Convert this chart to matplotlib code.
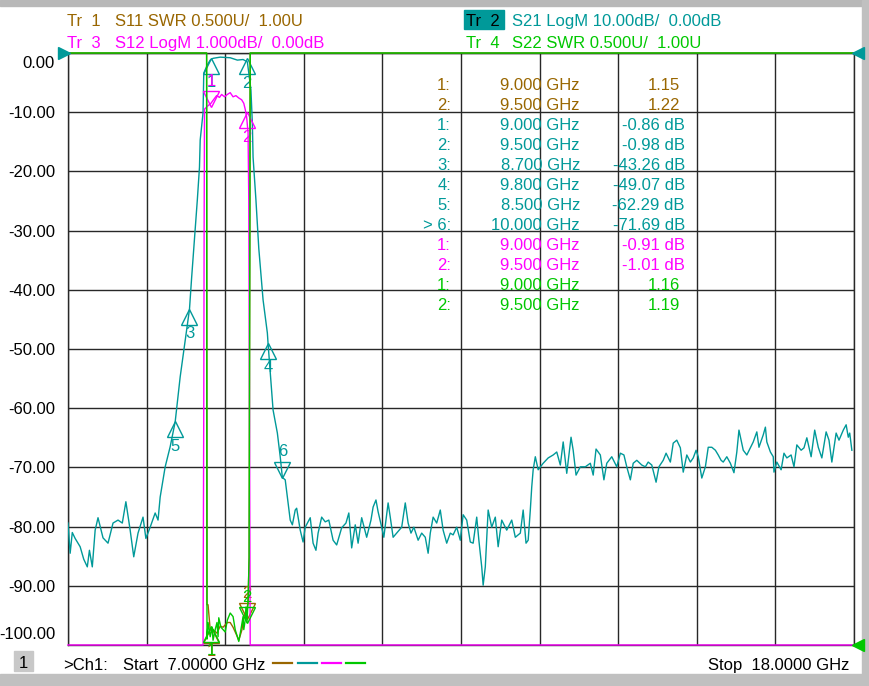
import numpy as np
import matplotlib.pyplot as plt
from matplotlib.patches import Rectangle
from matplotlib.transforms import offset_copy

plt.rcParams['font.family'] = ['Liberation Sans', 'DejaVu Sans']

# colours of the four traces
BROWN = '#996600'
TEAL = '#009999'
MAGENTA = '#ff00ff'
GREEN = '#00c800'
GRIDC = '#282828'

# Tr 2: S21 LogM (dB)
s21_freq = [7.00, 7.03, 7.06, 7.10, 7.17, 7.22, 7.27, 7.30, 7.34, 7.38,
            7.42, 7.49, 7.56, 7.63, 7.70, 7.76, 7.81, 7.87, 7.92, 7.98,
            8.05, 8.09, 8.15, 8.22, 8.26, 8.29, 8.36, 8.43, 8.50, 8.57,
            8.64, 8.70, 8.73, 8.76, 8.81, 8.84, 8.85, 8.89, 8.90, 8.95,
            8.99, 9.03, 9.13, 9.27, 9.37, 9.45, 9.51, 9.53, 9.56, 9.58,
            9.59, 9.63, 9.67, 9.73, 9.79, 9.80, 9.83, 9.87, 9.93, 9.97,
            10.00, 10.04, 10.07, 10.11, 10.14, 10.18, 10.20, 10.25, 10.29, 10.32,
            10.36, 10.39, 10.43, 10.47, 10.50, 10.55, 10.60, 10.65, 10.71, 10.76,
            10.83, 10.89, 10.93, 10.97, 11.02, 11.06, 11.11, 11.18, 11.24, 11.27,
            11.31, 11.34, 11.39, 11.42, 11.48, 11.51, 11.55, 11.60, 11.67, 11.72,
            11.76, 11.80, 11.84, 11.90, 11.95, 12.00, 12.04, 12.07, 12.11, 12.16,
            12.21, 12.25, 12.30, 12.35, 12.39, 12.44, 12.49, 12.53, 12.58, 12.63,
            12.67, 12.72, 12.75, 12.79, 12.81, 12.84, 12.88, 12.93, 12.98, 13.02,
            13.07, 13.14, 13.21, 13.26, 13.33, 13.37, 13.41, 13.44, 13.47, 13.49,
            13.51, 13.54, 13.58, 13.65, 13.72, 13.79, 13.84, 13.89, 13.93, 13.98,
            14.04, 14.07, 14.11, 14.17, 14.24, 14.31, 14.35, 14.39, 14.45, 14.50,
            14.54, 14.61, 14.68, 14.73, 14.78, 14.82, 14.87, 14.91, 14.96, 15.03,
            15.08, 15.12, 15.17, 15.23, 15.27, 15.33, 15.37, 15.43, 15.47, 15.52,
            15.57, 15.61, 15.66, 15.71, 15.75, 15.79, 15.82, 15.87, 15.92, 15.96,
            16.01, 16.06, 16.10, 16.14, 16.17, 16.22, 16.27, 16.32, 16.36, 16.39,
            16.45, 16.50, 16.55, 16.59, 16.64, 16.67, 16.73, 16.76, 16.78, 16.83,
            16.87, 16.88, 16.92, 16.98, 17.02, 17.06, 17.12, 17.16, 17.20, 17.26,
            17.30, 17.34, 17.40, 17.45, 17.50, 17.55, 17.61, 17.65, 17.69, 17.75,
            17.79, 17.85, 17.89, 17.92, 17.94, 17.97]
s21_db = [-79.4, -84.5, -81.0, -82.0, -83.4, -85.5, -86.8, -84.0, -86.8, -80.6,
          -78.5, -81.9, -82.8, -79.4, -78.9, -79.4, -75.8, -80.6, -85.1, -81.1,
          -78.4, -82.0, -80.1, -77.7, -78.9, -75.0, -69.9, -66.5, -62.3, -54.7,
          -48.5, -43.3, -38.0, -33.0, -24.8, -19.3, -14.7, -10.1, -3.4, -2.0,
          -1.2, -0.9, -0.7, -0.8, -1.2, -1.1, -1.5, -3.4, -6.2, -11.9,
          -17.6, -24.8, -33.0, -41.7, -47.3, -49.1, -54.0, -60.3, -64.2, -68.2,
          -71.7, -72.1, -75.0, -78.9, -79.7, -77.2, -76.9, -80.6, -82.6, -80.1,
          -79.2, -78.5, -82.8, -84.0, -81.1, -78.4, -79.2, -78.9, -82.3, -83.1,
          -80.2, -79.4, -77.7, -83.6, -79.7, -82.8, -78.5, -81.8, -78.9, -76.7,
          -75.5, -77.5, -80.1, -81.8, -76.0, -78.4, -81.8, -81.1, -80.1, -76.0,
          -79.4, -81.1, -80.1, -82.3, -81.1, -81.8, -84.5, -81.1, -78.4, -79.4,
          -77.2, -80.6, -82.8, -81.1, -81.4, -80.1, -82.3, -78.0, -78.9, -82.6,
          -82.8, -78.4, -82.3, -86.8, -89.9, -86.8, -77.2, -80.1, -78.4, -83.4,
          -78.9, -80.6, -78.9, -81.8, -81.1, -77.2, -82.8, -82.3, -77.2, -73.3,
          -70.4, -68.2, -70.4, -69.3, -68.4, -67.9, -67.4, -69.6, -65.7, -71.0,
          -64.9, -67.1, -71.3, -69.9, -69.9, -69.3, -71.3, -66.9, -67.9, -72.1,
          -69.3, -68.2, -69.9, -67.6, -67.9, -69.9, -72.1, -69.3, -68.8, -69.6,
          -69.9, -69.1, -69.6, -72.5, -69.9, -68.8, -67.6, -69.1, -65.9, -65.4,
          -66.7, -70.8, -67.9, -69.1, -68.4, -67.1, -68.2, -71.8, -69.9, -66.6,
          -66.6, -67.1, -67.9, -68.8, -69.1, -68.2, -69.3, -70.9, -67.4, -63.7,
          -67.1, -67.9, -66.7, -65.7, -64.0, -66.6, -64.5, -63.2, -65.7, -67.4,
          -68.2, -70.8, -69.1, -70.4, -67.6, -68.4, -67.9, -69.9, -66.2, -67.1,
          -66.7, -65.0, -68.2, -63.7, -66.6, -68.4, -64.0, -65.4, -69.1, -64.2,
          -65.4, -63.7, -62.8, -64.9, -64.2, -67.1]

# Tr 3: S12 LogM 1 dB/div
s12_freq = [7.00, 8.89, 8.90, 8.905, 8.91, 8.95, 9.00, 9.03, 9.08, 9.12,
            9.15, 9.19, 9.23, 9.27, 9.31, 9.35, 9.39, 9.43, 9.46, 9.48,
            9.50, 9.52, 9.53, 9.54, 9.55, 18.00]
s12_db = [-15, -15, -6.0, -3.0, -0.95, -0.90, -0.85, -0.80, -0.72, -0.75,
          -0.70, -0.74, -0.70, -0.67, -0.74, -0.72, -0.76, -0.79, -0.85, -0.95,
          -1.08, -1.35, -2.5, -6.0, -15, -15]

# Tr 1: S11 SWR
s11_freq = [7.00, 8.94, 8.945, 8.96, 8.99, 9.03, 9.085, 9.13, 9.17, 9.23,
            9.27, 9.31, 9.37, 9.39, 9.435, 9.46, 9.49, 9.52, 9.535, 9.55, 18.00]
s11_swr = [9, 9, 1.34, 1.34, 1.13, 1.13, 1.10, 1.16, 1.15, 1.19,
           1.19, 1.15, 1.07, 1.04, 1.13, 1.24, 1.27, 1.355, 1.74, 9, 9]

# Tr 4: S22 SWR
s22_freq = [7.00, 8.94, 8.945, 8.96, 8.99, 9.015, 9.03, 9.06, 9.085, 9.10,
            9.11, 9.14, 9.17, 9.20, 9.23, 9.27, 9.31, 9.34, 9.37, 9.39,
            9.42, 9.45, 9.46, 9.48, 9.49, 9.505, 9.52, 9.535, 9.55, 18.00]
s22_swr = [9, 9, 1.05, 1.19, 1.07, 1.15, 1.04, 1.13, 1.19, 1.07,
           1.23, 1.15, 1.13, 1.11, 1.21, 1.27, 1.24, 1.13, 1.07, 1.03,
           1.13, 1.24, 1.13, 1.21, 1.32, 1.19, 1.38, 1.74, 9, 9]

# markers (freq GHz, value)
mk11_freq = [9.0, 9.5]
mk11_val = [1.15, 1.22]
mk21_freq = [9.0, 9.5, 8.7, 9.8, 8.5, 10.0]
mk21_val = [-0.86, -0.98, -43.26, -49.07, -62.29, -71.69]
mk12_freq = [9.0, 9.5]
mk12_val = [-0.91, -1.01]
mk22_freq = [9.0, 9.5]
mk22_val = [1.16, 1.19]

ytick_vals = [0, -10, -20, -30, -40, -50, -60, -70, -80, -90, -100]

W, H = 869, 686
fig = plt.figure(figsize=(W / 100, H / 100), dpi=100)


def px(x, y):
    return x / W, 1 - y / H


L, R, T, B = 68, 854, 53, 645
rect = [L / W, 1 - B / H, (R - L) / W, (B - T) / H]

ax = fig.add_axes(rect)
ax.set_xlim(7, 18)
ax.set_ylim(-100, 0)
ax.set_xticks(np.linspace(7, 18, 11))
ax.set_yticks(np.linspace(-100, 0, 11))
ax.grid(True, color=GRIDC, lw=1.0)
ax.tick_params(length=0, labelbottom=False, labelleft=False)
for s in ax.spines.values():
    s.set_color(GRIDC)
    s.set_linewidth(1.0)


def overlay(lo, hi):
    a = fig.add_axes(rect, sharex=ax)
    a.set_ylim(lo, hi)
    a.patch.set_visible(False)
    a.axis('off')
    return a


ax11 = overlay(1, 6)
ax12 = overlay(-10, 0)
ax22 = overlay(1, 6)

LW = 1.0
ax11.plot(s11_freq, np.clip(s11_swr, 1, 6), color=BROWN, lw=LW, clip_on=False, zorder=2)
ax.plot(s21_freq, s21_db, color=TEAL, lw=LW, zorder=3)
ax12.plot(s12_freq, np.clip(s12_db, -10, 0), color=MAGENTA, lw=LW, clip_on=False, zorder=3)
ax22.plot(s22_freq, np.clip(s22_swr, 1, 6), color=GREEN, lw=LW, clip_on=False, zorder=4)


def marker(a, f, v, n, color, up=True):
    sz = 11
    dy = -sz / 2 if up else sz / 2
    tr = offset_copy(a.transData, fig=fig, x=0, y=dy, units='points')
    a.plot([f], [v], marker='^' if up else 'v', ms=sz, mfc='none', mec=color,
           mew=1.0, transform=tr, clip_on=False, zorder=6)
    if up:
        a.annotate(str(n), (f, v), xytext=(0, -17), textcoords='offset pixels',
                   ha='center', va='top', color=color, fontsize=12,
                   annotation_clip=False)
    else:
        a.annotate(str(n), (f, v), xytext=(0, 18), textcoords='offset pixels',
                   ha='center', va='bottom', color=color, fontsize=12,
                   annotation_clip=False)


marker(ax11, mk11_freq[0], mk11_val[0], 1, BROWN, up=True)
marker(ax11, mk11_freq[1], mk11_val[1], 2, BROWN, up=False)
for i, (f, v) in enumerate(zip(mk21_freq, mk21_val)):
    marker(ax, f, v, i + 1, TEAL, up=(i != 5))
marker(ax12, mk12_freq[0], mk12_val[0], 1, MAGENTA, up=False)
marker(ax12, mk12_freq[1], mk12_val[1], 2, MAGENTA, up=True)
marker(ax22, mk22_freq[0], mk22_val[0], 1, GREEN, up=True)
marker(ax22, mk22_freq[1], mk22_val[1], 2, GREEN, up=False)

# y scale labels
for v in ytick_vals:
    yy = T + (0 - v) / 100 * (B - T)
    if v == 0:
        fig.text(*px(55, 68), '%.2f' % v, ha='right', va='baseline', fontsize=12)
    elif v == -100:
        fig.text(*px(55, 639), '%.2f' % v, ha='right', va='baseline', fontsize=12)
    else:
        fig.text(*px(55, yy + 6), '%.2f' % v, ha='right', va='baseline', fontsize=12)

# header lines
fig.text(*px(67, 26), 'Tr  1', color=BROWN, fontsize=12)
fig.text(*px(115, 26), 'S11 SWR 0.500U/  1.00U', color=BROWN, fontsize=12)
fig.text(*px(67, 48), 'Tr  3', color=MAGENTA, fontsize=12)
fig.text(*px(115, 48), 'S12 LogM 1.000dB/  0.00dB', color=MAGENTA, fontsize=12)
fig.patches.append(Rectangle(px(464, 29), 40 / W, 19 / H, transform=fig.transFigure,
                             color=TEAL, zorder=0))
fig.text(*px(466, 26), 'Tr  2', color='black', fontsize=12)
fig.text(*px(512, 26), 'S21 LogM 10.00dB/  0.00dB', color=TEAL, fontsize=12)
fig.text(*px(466, 48), 'Tr  4', color=GREEN, fontsize=12)
fig.text(*px(512, 48), 'S22 SWR 0.500U/  1.00U', color=GREEN, fontsize=12)

# marker readout table
table = [('1:', '9.000 GHz', '1.15', BROWN, 680),
         ('2:', '9.500 GHz', '1.22', BROWN, 680),
         ('1:', '9.000 GHz', '-0.86 dB', TEAL, 685),
         ('2:', '9.500 GHz', '-0.98 dB', TEAL, 685),
         ('3:', '8.700 GHz', '-43.26 dB', TEAL, 685),
         ('4:', '9.800 GHz', '-49.07 dB', TEAL, 685),
         ('5:', '8.500 GHz', '-62.29 dB', TEAL, 685),
         ('> 6:', '10.000 GHz', '-71.69 dB', TEAL, 685),
         ('1:', '9.000 GHz', '-0.91 dB', MAGENTA, 685),
         ('2:', '9.500 GHz', '-1.01 dB', MAGENTA, 685),
         ('1:', '9.000 GHz', '1.16', GREEN, 680),
         ('2:', '9.500 GHz', '1.19', GREEN, 680)]
for i, (a, b, c, col, xr) in enumerate(table):
    yb = 90 + 20 * i
    fig.text(*px(451, yb), a, ha='right', color=col, fontsize=12)
    fig.text(*px(580, yb), b, ha='right', color=col, fontsize=12)
    fig.text(*px(xr, yb), c, ha='right', color=col, fontsize=12)

# reference level arrows
fig.lines.append(plt.Line2D([px(64, 53)[0]], [px(64, 53)[1]], marker='>', ms=9,
                            color=TEAL, transform=fig.transFigure))
fig.lines.append(plt.Line2D([px(858, 53)[0]], [px(858, 53)[1]], marker='<', ms=9,
                            color=TEAL, transform=fig.transFigure))
fig.lines.append(plt.Line2D([px(858, 645)[0]], [px(858, 645)[1]], marker='<', ms=9,
                            color=GREEN, transform=fig.transFigure))

# status line
fig.patches.append(Rectangle(px(14, 671), 19 / W, 20 / H, transform=fig.transFigure,
                             color='#c8c8c8', zorder=0))
fig.text(*px(23.5, 668), '1', ha='center', fontsize=12)
fig.text(*px(63, 670), '>Ch1:', fontsize=12)
fig.text(*px(123, 670), 'Start  7.00000 GHz', fontsize=12)
fig.text(*px(849, 670), 'Stop  18.0000 GHz', ha='right', fontsize=12)
for x0, col in zip([273, 298, 322, 346], [BROWN, TEAL, MAGENTA, GREEN]):
    fig.lines.append(plt.Line2D([x0 / W, (x0 + 19) / W], [px(0, 663)[1]] * 2,
                                color=col, lw=1.6, transform=fig.transFigure))

# window frame
fig.patches.append(Rectangle((0, 1 - 6 / H), 1, 6 / H, transform=fig.transFigure,
                             color='#b8b8b8', zorder=0))
fig.patches.append(Rectangle((0, 0), 1, 12 / H, transform=fig.transFigure,
                             color='#c0c0c0', zorder=0))
fig.patches.append(Rectangle((862 / W, 0), 7 / W, 1, transform=fig.transFigure,
                             color='#c0c0c0', zorder=0))

fig.savefig('out.png', dpi=100)
